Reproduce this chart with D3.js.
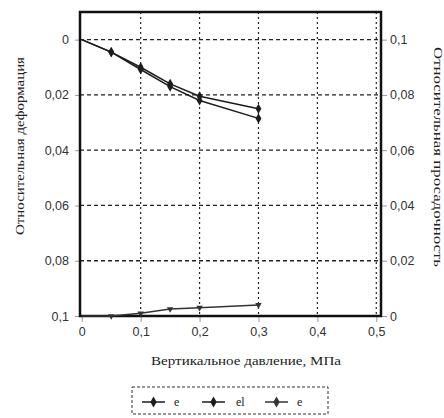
<!DOCTYPE html>
<html>
<head>
<meta charset="utf-8">
<script src="https://cdn.jsdelivr.net/npm/d3@7"></script>
<style>
  body { margin: 0; background: #fff; }
  svg { display: block; }
</style>
</head>
<body>
<svg id="chart" width="444" height="418"></svg>
<script>
// pressure, MPa
const pressure = [0, 0.05, 0.1, 0.15, 0.2, 0.3];
// relative deformation (left axis, inverted)
const eValues = [0, 0.0045, 0.0100, 0.0160, 0.0205, 0.0250];
const elValues = [0, 0.0045, 0.0108, 0.0170, 0.0220, 0.0285];
// relative subsidence (right axis)
const subsValues = [0, 0, 0.0010, 0.0025, 0.0030, 0.0040];

const xTicks = [0, 0.1, 0.2, 0.3, 0.4, 0.5];
const leftTicks = [0, 0.02, 0.04, 0.06, 0.08, 0.1];
const rightTicks = [0, 0.02, 0.04, 0.06, 0.08, 0.1];
const legendNames = ["e", "el", "e"];

const fmt = d => String(+d.toFixed(2)).replace(".", ",");

const svg = d3.select("#chart");
const plotL = 80, plotR = 381, plotT = 12, plotB = 316;

const x = d3.scaleLinear().domain([-0.003, 0.508]).range([plotL, plotR]);
const yL = d3.scaleLinear().domain([-0.01, 0.1]).range([plotT, plotB]);
const yR = d3.scaleLinear().domain([0.11, 0]).range([plotT, plotB]);

const ink = "#1c1c1c";

// grid
svg.append("g").selectAll("line")
  .data(leftTicks.filter(d => d < 0.1))
  .join("line")
  .attr("x1", plotL).attr("x2", plotR)
  .attr("y1", d => yL(d)).attr("y2", d => yL(d))
  .attr("stroke", "#222").attr("stroke-width", 1.3)
  .attr("stroke-dasharray", "4,3");

svg.append("g").selectAll("line")
  .data(xTicks.filter(d => d > 0))
  .join("line")
  .attr("x1", d => x(d)).attr("x2", d => x(d))
  .attr("y1", plotT).attr("y2", plotB)
  .attr("stroke", "#222").attr("stroke-width", 1.2)
  .attr("stroke-dasharray", "2,3");

// axes
const axisStyle = g => {
  g.select(".domain").remove();
  g.selectAll(".tick line").attr("stroke", "#999");
  g.selectAll(".tick text")
    .attr("fill", "#333")
    .style("font-family", "'Liberation Sans', Arial, sans-serif")
    .style("font-size", "12.5px");
};

svg.append("g")
  .attr("transform", `translate(0,${plotB})`)
  .call(d3.axisBottom(x).tickValues(xTicks).tickFormat(fmt).tickSize(6).tickPadding(5))
  .call(axisStyle);

svg.append("g")
  .attr("transform", `translate(${plotL},0)`)
  .call(d3.axisLeft(yL).tickValues(leftTicks).tickFormat(fmt).tickSize(5).tickPadding(6))
  .call(axisStyle);

svg.append("g")
  .attr("transform", `translate(${plotR},0)`)
  .call(d3.axisRight(yR).tickValues(rightTicks).tickFormat(fmt).tickSize(6).tickPadding(3))
  .call(axisStyle);

// frame
svg.append("rect")
  .attr("x", plotL).attr("y", plotT)
  .attr("width", plotR - plotL).attr("height", plotB - plotT)
  .attr("fill", "none").attr("stroke", "#111").attr("stroke-width", 2.5);

// series
const series = [
  { values: eValues, y: yL, symbol: d3.symbolDiamond, size: 30, color: ink },
  { values: elValues, y: yL, symbol: d3.symbolDiamond, size: 30, color: ink },
  { values: subsValues, y: yR, symbol: d3.symbolTriangle, size: 18, color: "#333", rotate: 180 }
];

series.forEach(s => {
  const line = d3.line().x((d, i) => x(pressure[i])).y(d => s.y(d));
  svg.append("path")
    .datum(s.values)
    .attr("d", line)
    .attr("fill", "none")
    .attr("stroke", s.color)
    .attr("stroke-width", 1.5);
  svg.append("g").selectAll("path")
    .data(s.values.slice(1))
    .join("path")
    .attr("d", d3.symbol().type(s.symbol).size(s.size))
    .attr("transform", (d, i) => `translate(${x(pressure[i + 1])},${s.y(d)}) rotate(${s.rotate || 0})`)
    .attr("fill", s.color);
});

// axis titles
const title = (txt, tx, ty, rot, len) => svg.append("text")
  .attr("transform", `translate(${tx},${ty}) rotate(${rot})`)
  .attr("text-anchor", "middle")
  .attr("textLength", len)
  .attr("lengthAdjust", "spacingAndGlyphs")
  .attr("fill", "#222")
  .style("font-family", "'Liberation Serif', 'Times New Roman', serif")
  .style("font-size", "12px")
  .text(txt);

title("Вертикальное давление, МПа", 246, 365, 0, 190);
title("Относительная деформация", 24, 146, -90, 178);
title("Относительная просадочность", 434, 157, 90, 220);

// legend
const lg = svg.append("g");
lg.append("rect")
  .attr("x", 132).attr("y", 387).attr("width", 196).attr("height", 27)
  .attr("fill", "none").attr("stroke", "#333").attr("stroke-width", 1)
  .attr("stroke-dasharray", "3,2");

const legendX = [142, 202, 265];
legendNames.forEach((name, i) => {
  const s = series[i];
  const g = lg.append("g").attr("transform", `translate(${legendX[i]},402)`);
  g.append("line").attr("x1", 0).attr("x2", 23).attr("stroke", s.color).attr("stroke-width", 1.5);
  g.append("path")
    .attr("d", d3.symbol().type(d3.symbolDiamond).size(34))
    .attr("transform", "translate(11.5,0)")
    .attr("fill", s.color);
  g.append("text")
    .attr("x", i === 1 ? 34 : 32).attr("y", 4)
    .attr("fill", "#222")
    .style("font-family", "'Liberation Serif', 'Times New Roman', serif")
    .style("font-size", "12px")
    .text(name);
});
</script>
</body>
</html>
